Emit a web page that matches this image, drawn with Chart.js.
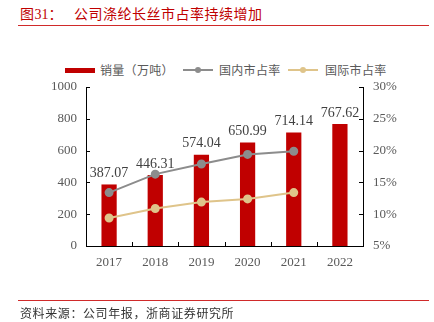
<!DOCTYPE html>
<html>
<head>
<meta charset="utf-8">
<script src="https://cdn.jsdelivr.net/npm/chart.js@4/dist/chart.umd.min.js"></script>
<style>
body { margin: 0; background: #fff; }
#wrap { position: relative; width: 434px; height: 322px; overflow: hidden; font-family: "Noto Sans CJK SC", sans-serif; }
#title { position: absolute; left: 20px; top: 3px; color: #c00000; font-size: 14px; white-space: nowrap; letter-spacing: 0.5px; }
#title .num { font-family: "Liberation Serif", serif; letter-spacing: 0; }
#topLine { position: absolute; left: 18px; top: 25px; width: 411px; height: 1px; background: #d02a2a; }
.lg { position: absolute; top: 61px; font-size: 12px; color: #595959; white-space: nowrap; letter-spacing: 0.3px; line-height: 18px; }
.sw-bar { position: absolute; top: 68px; width: 30px; height: 5px; background: #c00000; }
.sw-line { position: absolute; top: 69px; width: 30px; height: 2px; }
.sw-line i { position: absolute; left: 12px; top: -2px; width: 6px; height: 6px; border-radius: 3px; }
#botLine { position: absolute; left: 18px; top: 300px; width: 411px; height: 1px; background: #d02a2a; }
#source { position: absolute; left: 20px; top: 304px; font-size: 12px; color: #333; letter-spacing: 0.6px; white-space: nowrap; }
canvas { position: absolute; left: 0; top: 0; }
</style>
</head>
<body>
<div id="wrap">
  <div id="title">图<span class="num">31</span>：&nbsp;&nbsp;&nbsp;公司涤纶长丝市占率持续增加</div>
  <div id="topLine"></div>
  <span class="sw-bar" style="left:65px"></span><span class="lg" style="left:100px">销量（万吨）</span>
  <span class="sw-line" style="left:183px;background:#8c8c8c"><i style="background:#8c8c8c"></i></span><span class="lg" style="left:219px">国内市占率</span>
  <span class="sw-line" style="left:288px;background:#dfc48a"><i style="background:#dfc48a"></i></span><span class="lg" style="left:325px">国际市占率</span>
  <canvas id="chart" width="434" height="322"></canvas>
  <div id="botLine"></div>
  <div id="source">资料来源：公司年报，浙商证券研究所</div>
</div>
<script>
const years = ["2017", "2018", "2019", "2020", "2021", "2022"];
const salesVolume = [387.07, 446.31, 574.04, 650.99, 714.14, 767.62];
const domesticShare = [13.4, 16.3, 17.9, 19.4, 19.9, null];
const internationalShare = [9.4, 10.9, 11.9, 12.4, 13.4, null];

const barColor = "#c00000";
const grayColor = "#8c8c8c";
const tanColor = "#dfc48a";

// bar value labels
const barLabels = {
    id: "barLabels",
    afterDatasetsDraw(chart) {
        const ctx = chart.ctx;
        const meta = chart.getDatasetMeta(2);
        ctx.save();
        ctx.font = "14px 'Liberation Serif', serif";
        ctx.fillStyle = "#404040";
        ctx.textAlign = "center";
        ctx.textBaseline = "bottom";
        meta.data.forEach((bar, i) => {
            ctx.fillText(salesVolume[i].toFixed(2), bar.x, bar.y - 4);
        });
        ctx.restore();
    }
};

// tick marks pointing into the plot
const innerTicks = {
    id: "innerTicks",
    afterDraw(chart) {
        const ctx = chart.ctx;
        const area = chart.chartArea;
        const x = chart.scales.x;
        const y = chart.scales.y;
        const y1 = chart.scales.y1;
        ctx.save();
        ctx.strokeStyle = "#000";
        ctx.lineWidth = 1;
        ctx.beginPath();
        y.ticks.forEach((t, i) => {
            const py = Math.round(y.getPixelForTick(i)) + 0.5;
            ctx.moveTo(area.left, py);
            ctx.lineTo(area.left + 4, py);
        });
        y1.ticks.forEach((t, i) => {
            const py = Math.round(y1.getPixelForTick(i)) + 0.5;
            ctx.moveTo(area.right, py);
            ctx.lineTo(area.right - 4, py);
        });
        for (let i = 1; i < years.length; i++) {
            const px = Math.round((x.getPixelForValue(i - 1) + x.getPixelForValue(i)) / 2) + 0.5;
            ctx.moveTo(px, area.bottom);
            ctx.lineTo(px, area.bottom - 4);
        }
        ctx.stroke();
        ctx.restore();
    }
};

const tickFont = { family: "'Liberation Serif', serif", size: 13 };

new Chart(document.getElementById("chart"), {
    data: {
        labels: years,
        datasets: [
            {
                type: "line",
                label: "国内市占率",
                data: domesticShare,
                yAxisID: "y1",
                borderColor: grayColor,
                backgroundColor: grayColor,
                borderWidth: 2,
                pointRadius: 3.5,
                pointHoverRadius: 3.5,
                tension: 0
            },
            {
                type: "line",
                label: "国际市占率",
                data: internationalShare,
                yAxisID: "y1",
                borderColor: tanColor,
                backgroundColor: tanColor,
                borderWidth: 2,
                pointRadius: 3.5,
                pointHoverRadius: 3.5,
                tension: 0
            },
            {
                type: "bar",
                label: "销量（万吨）",
                data: salesVolume,
                yAxisID: "y",
                backgroundColor: barColor,
                categoryPercentage: 1,
                barPercentage: 0.33
            }
        ]
    },
    options: {
        responsive: false,
        animation: false,
        events: [],
        layout: { padding: { top: 87, bottom: 50, left: 0, right: 0 } },
        plugins: { legend: { display: false }, tooltip: { enabled: false } },
        scales: {
            x: {
                grid: { display: false, drawTicks: false },
                border: { display: true, color: "#000", width: 1 },
                ticks: { color: "#595959", font: tickFont, padding: 9, maxRotation: 0 },
                afterFit(scale) { scale.height = 26; }
            },
            y: {
                position: "left",
                min: 0,
                max: 1000,
                grid: { display: false, drawTicks: false },
                border: { display: true, color: "#000", width: 1 },
                ticks: { stepSize: 200, color: "#595959", font: tickFont, padding: 9,
                    callback: v => String(v) },
                afterFit(scale) { scale.width = 86; }
            },
            y1: {
                position: "right",
                min: 5,
                max: 30,
                grid: { display: false, drawTicks: false },
                border: { display: true, color: "#000", width: 1 },
                ticks: { stepSize: 5, color: "#595959", font: tickFont, padding: 10,
                    callback: v => v + "%" },
                afterFit(scale) { scale.width = 71; }
            }
        }
    },
    plugins: [barLabels, innerTicks]
});
</script>
</body>
</html>
